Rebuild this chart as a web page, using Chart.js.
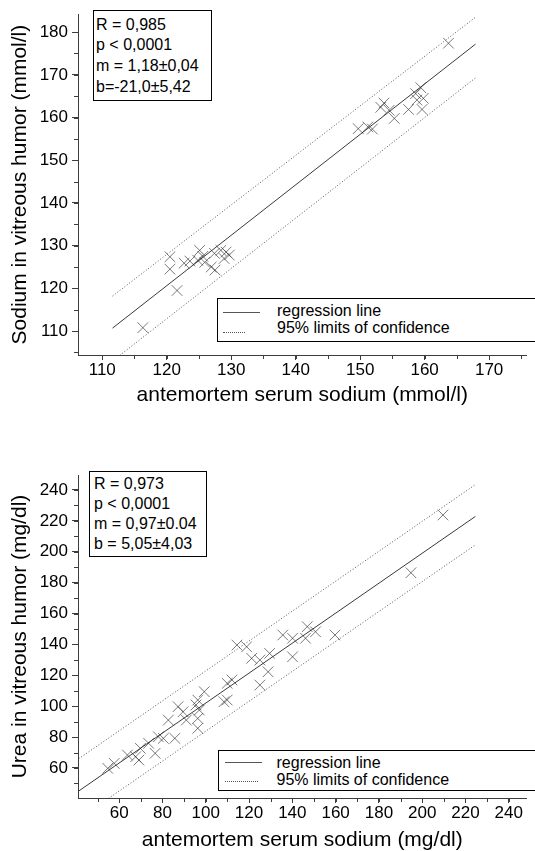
<!DOCTYPE html>
<html><head><meta charset="utf-8">
<script src="https://cdn.jsdelivr.net/npm/chart.js@4.4.1/dist/chart.umd.min.js"></script>
<style>
html,body{margin:0;padding:0;background:#fff;}
body{width:535px;height:851px;position:relative;overflow:hidden;font-family:"Liberation Sans",Arial,sans-serif;color:#000;}
canvas{position:absolute;left:0;}
.box{position:absolute;border:1px solid #000;background:#fff;box-sizing:border-box;font-size:16px;white-space:nowrap;}
.leg{position:absolute;border:1px solid #000;background:#fff;box-sizing:border-box;font-size:16px;white-space:nowrap;}
.leg .t{position:absolute;line-height:18px;}
.leg .solid{position:absolute;height:0;border-top:1px solid #555;}
.leg .dot{position:absolute;height:0;border-top:1px dotted #555;}
</style></head>
<body>
<canvas id="c1" width="535" height="420" style="top:0"></canvas>
<canvas id="c2" width="535" height="431" style="top:420px"></canvas>

<div class="box" style="left:93px;top:10px;width:119px;height:91px;padding:3.6px 0 0 2px;line-height:20.7px;">
<div>R = 0,985</div><div>p &lt; 0,0001</div><div>m = 1,18±0,04</div><div>b=-21,0±5,42</div>
</div>
<div class="leg" style="left:217px;top:298px;width:340px;height:44px;">
<div class="solid" style="left:5px;top:13px;width:37px;"></div>
<div class="t" style="left:59px;top:2.7px;">regression line</div>
<div class="dot" style="left:5px;top:33px;width:22px;"></div>
<div class="t" style="left:59px;top:20px;">95% limits of confidence</div>
</div>

<div class="box" style="left:89px;top:471px;width:118px;height:86px;padding:2px 0 0 4px;line-height:20px;">
<div>R = 0,973</div><div>p &lt; 0,0001</div><div>m = 0,97±0.04</div><div>b = 5,05±4,03</div>
</div>
<div class="leg" style="left:218px;top:750px;width:340px;height:41px;">
<div class="solid" style="left:6px;top:11px;width:37px;"></div>
<div class="t" style="left:57.5px;top:2.7px;">regression line</div>
<div class="dot" style="left:6px;top:30px;width:33px;"></div>
<div class="t" style="left:57.5px;top:20px;">95% limits of confidence</div>
</div>

<script>
// ---------- Chart 1: sodium ----------
const sodiumSerum = [163.7, 159.4, 158.6, 158.8, 159.8, 157.5, 159.6, 153.7, 153.2, 154.5, 155.3, 149.7, 151.2, 151.9,
  116.3, 121.6, 120.5, 120.5, 122.7, 123.6, 125.1, 125.6, 124.8, 125.9, 126.9, 127.5, 127.4, 128.4, 129.2, 129.7, 128.9];
const sodiumVitreous = [177.4, 167.0, 165.6, 164.1, 164.5, 161.9, 161.9, 163.4, 162.4, 161.7, 159.8, 157.4, 157.8, 157.3,
  110.8, 119.5, 127.4, 124.5, 125.9, 126.4, 128.9, 127.5, 126.6, 126.1, 125.0, 124.3, 128.2, 128.9, 128.5, 127.8, 127.0];
const sodiumLineX = [111.6, 167.9];
const sodiumRegY = [110.7, 177.2];
const sodiumUpperY = [118.2, 183.5];
const sodiumLowerY = [103.0, 169.3];
const sodiumXTicks = [110, 120, 130, 140, 150, 160, 170];
const sodiumYTicks = [110, 120, 130, 140, 150, 160, 170, 180];

// ---------- Chart 2: urea ----------
const ureaSerum = [54.7, 57.7, 63.8, 67.6, 69.1, 69.8, 73.6, 76.6, 78.1, 80.4, 85.7, 82.7, 87.2, 89.5, 91.0, 95.5, 97.0, 96.3, 96.3,
  99.3, 96.3, 108.4, 109.9, 109.9, 112.1, 114.4, 118.9, 121.2, 125.0, 129.5, 128.8, 125.0, 135.6, 140.1, 140.1, 146.1, 146.9,
  150.7, 159.7, 194.8, 209.6];
const ureaVitreous = [59.8, 63.0, 68.4, 67.3, 65.1, 72.7, 76.0, 69.5, 80.2, 79.2, 79.2, 91.0, 99.7, 96.4, 91.0, 100.8, 97.5, 92.1, 85.7,
  109.4, 104.0, 102.9, 104.0, 114.8, 117.0, 139.6, 138.5, 131.0, 129.9, 134.2, 122.3, 113.7, 146.1, 144.0, 132.0, 144.0, 151.5,
  148.2, 146.1, 186.4, 223.8];
const ureaLineX = [41.3, 224.6];
const ureaRegY = [45.1, 222.9];
const ureaUpperY = [66.0, 243.5];
const ureaLowerY = [27.0, 204.5];
const ureaXTicks = [60, 80, 100, 120, 140, 160, 180, 200, 220, 240];
const ureaYTicks = [60, 80, 100, 120, 140, 160, 180, 200, 220, 240];

const AXIS = '#3c3c3c';
const FONT = "'Liberation Sans', Arial, sans-serif";

const pts = (xs, ys) => xs.map((x, i) => ({x, y: ys[i]}));

const minorTicks = {
  id: 'minorTicks',
  afterDraw(chart, args, opts) {
    const {ctx, chartArea} = chart;
    const xs = chart.scales.x, ys = chart.scales.y;
    ctx.save();
    ctx.strokeStyle = AXIS;
    ctx.lineWidth = 1;
    ctx.beginPath();
    for (let v = Math.ceil(xs.min / opts.xStep) * opts.xStep; v <= xs.max; v += opts.xStep) {
      const p = Math.round(xs.getPixelForValue(v)) + 0.5;
      ctx.moveTo(p, chartArea.bottom);
      ctx.lineTo(p, chartArea.bottom + opts.len);
    }
    for (let v = Math.ceil(ys.min / opts.yStep) * opts.yStep; v <= ys.max; v += opts.yStep) {
      const p = Math.round(ys.getPixelForValue(v)) + 0.5;
      ctx.moveTo(chartArea.left, p);
      ctx.lineTo(chartArea.left - opts.len, p);
    }
    ctx.stroke();
    ctx.restore();
  }
};

function build(id, c) {
  const lineDs = (ys, dash, color) => ({
    data: pts(c.lineX, ys), showLine: true, pointRadius: 0, borderColor: color,
    borderWidth: 1, borderDash: dash, clip: 0, fill: false
  });
  return new Chart(document.getElementById(id), {
    type: 'scatter',
    data: {
      datasets: [
        { data: pts(c.px, c.py), pointStyle: 'crossRot', pointRadius: 7.5, pointHoverRadius: 7.5,
          borderColor: 'rgba(40,40,40,0.62)', backgroundColor: 'rgba(0,0,0,0)', borderWidth: 1, clip: false },
        lineDs(c.regY, [], '#3a3a3a'),
        lineDs(c.upY, [1, 2], '#555'),
        lineDs(c.loY, [1, 2], '#555')
      ]
    },
    options: {
      responsive: false,
      animation: false,
      events: [],
      layout: { padding: { top: c.padTop, left: 0, right: 0, bottom: 0 } },
      plugins: { legend: { display: false }, tooltip: { enabled: false }, minorTicks: c.minor },
      scales: {
        x: {
          type: 'linear', min: c.xmin, max: c.xmax,
          afterBuildTicks: s => { s.ticks = c.xTicks.map(v => ({value: v})); },
          afterFit: s => { s.height = c.xH; },
          grid: { drawOnChartArea: false, drawTicks: true, tickLength: 5, color: AXIS },
          border: { display: true, color: AXIS, width: 1 },
          ticks: { autoSkip: false, maxRotation: 0, padding: 0, color: '#000', font: { family: FONT, size: 17 } },
          title: { display: true, text: c.xTitle, color: '#000', font: { family: FONT, size: 21, lineHeight: 1 },
                   padding: { top: 0, bottom: c.xTitlePad } }
        },
        y: {
          type: 'linear', min: c.ymin, max: c.ymax,
          afterBuildTicks: s => { s.ticks = c.yTicks.map(v => ({value: v})); },
          afterFit: s => { s.width = 78; },
          grid: { drawOnChartArea: false, drawTicks: true, tickLength: 6, color: AXIS },
          border: { display: true, color: AXIS, width: 1 },
          ticks: { autoSkip: false, padding: 4, color: '#000', font: { family: FONT, size: 17 } },
          title: { display: true, text: c.yTitle, color: '#000', font: { family: FONT, size: 21, lineHeight: 1 },
                   padding: { top: 10, bottom: 0 } }
        }
      }
    },
    plugins: [minorTicks]
  });
}

build('c1', {
  px: sodiumSerum, py: sodiumVitreous, lineX: sodiumLineX, regY: sodiumRegY, upY: sodiumUpperY, loY: sodiumLowerY,
  xTicks: sodiumXTicks, yTicks: sodiumYTicks,
  xmin: 106.24, xmax: 175.8, ymin: 104.4, ymax: 184.2,
  padTop: 14, xH: 65, xTitlePad: 14.5,
  minor: { xStep: 5, yStep: 5, len: 4 },
  xTitle: 'antemortem serum sodium (mmol/l)', yTitle: 'Sodium in vitreous humor (mmol/l)'
});
build('c2', {
  px: ureaSerum, py: ureaVitreous, lineX: ureaLineX, regY: ureaRegY, upY: ureaUpperY, loY: ureaLowerY,
  xTicks: ureaXTicks, yTicks: ureaYTicks,
  xmin: 40.96, xmax: 248.2, ymin: 40.57, ymax: 249.7,
  padTop: 55, xH: 53, xTitlePad: 0.5,
  minor: { xStep: 10, yStep: 10, len: 4 },
  xTitle: 'antemortem serum sodium (mg/dl)', yTitle: 'Urea in vitreous humor (mg/dl)'
});
</script>
</body></html>
